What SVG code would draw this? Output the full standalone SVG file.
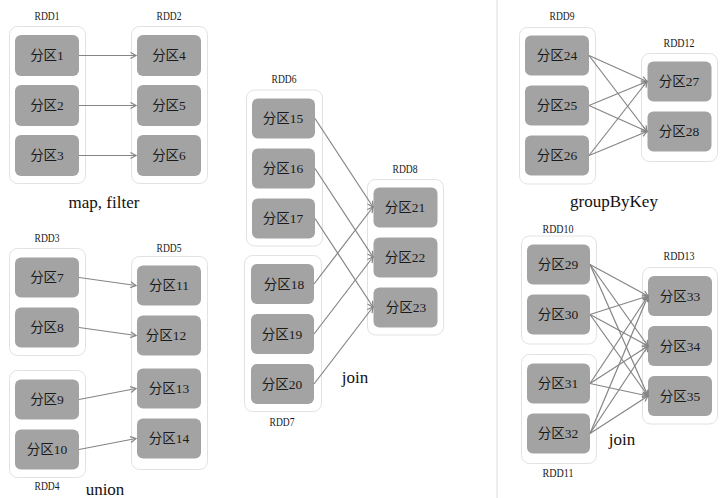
<svg xmlns="http://www.w3.org/2000/svg" width="726" height="498" viewBox="0 0 726 498">
<style>
.box{fill:#fff;stroke:#e2e2e2;stroke-width:1}
.p{fill:#a3a3a3;stroke:none}
.pt{font-family:"Liberation Serif","Noto Sans CJK SC",serif;font-size:13.5px;fill:#1a1a1a;text-anchor:middle}
.rl{font-family:"Liberation Serif",serif;font-size:12.5px;fill:#1a1a1a;text-anchor:middle}
.op{font-family:"Liberation Serif",serif;font-size:17px;fill:#111;text-anchor:middle}
.c line{stroke:#858585;stroke-width:1.2;marker-end:url(#ah)}
</style>
<defs>
<marker id="ah" markerUnits="userSpaceOnUse" markerWidth="8" markerHeight="8" refX="6" refY="3.5" orient="auto">
<path d="M0.5,0.5 L6,3.5 L0.5,6.5" fill="none" stroke="#858585" stroke-width="1.2"/>
</marker>
</defs>
<rect width="726" height="498" fill="#fff"/>
<line x1="497" y1="0" x2="497" y2="498" stroke="#dcdcdc" stroke-width="1"/>

<!-- map, filter -->
<g id="RDD1">
<rect class="box" x="9.5" y="26.5" width="76" height="157" rx="8"/>
<text class="rl" x="47" y="20" textLength="25" lengthAdjust="spacingAndGlyphs">RDD1</text>
<g id="p1"><rect class="p" x="15" y="35" width="64" height="41" rx="6"/><text class="pt" x="47" y="60">分区1</text></g>
<g id="p2"><rect class="p" x="15" y="85" width="64" height="41" rx="6"/><text class="pt" x="47" y="110">分区2</text></g>
<g id="p3"><rect class="p" x="15" y="135" width="64" height="41" rx="6"/><text class="pt" x="47" y="160">分区3</text></g>
</g>
<g id="RDD2">
<rect class="box" x="131.5" y="26.5" width="76" height="157" rx="8"/>
<text class="rl" x="169" y="20" textLength="25" lengthAdjust="spacingAndGlyphs">RDD2</text>
<g id="p4"><rect class="p" x="137" y="35" width="64" height="41" rx="6"/><text class="pt" x="169" y="60">分区4</text></g>
<g id="p5"><rect class="p" x="137" y="85" width="64" height="41" rx="6"/><text class="pt" x="169" y="110">分区5</text></g>
<g id="p6"><rect class="p" x="137" y="135" width="64" height="41" rx="6"/><text class="pt" x="169" y="160">分区6</text></g>
</g>
<text class="op" x="104" y="208">map, filter</text>

<!-- union -->
<g id="RDD3">
<rect class="box" x="9.5" y="248.5" width="76" height="107" rx="8"/>
<text class="rl" x="47" y="242" textLength="25" lengthAdjust="spacingAndGlyphs">RDD3</text>
<g id="p7"><rect class="p" x="15" y="257.5" width="64" height="40" rx="6"/><text class="pt" x="47" y="282">分区7</text></g>
<g id="p8"><rect class="p" x="15" y="307.5" width="64" height="40" rx="6"/><text class="pt" x="47" y="332">分区8</text></g>
</g>
<g id="RDD4">
<rect class="box" x="9.5" y="370.5" width="76" height="107" rx="8"/>
<text class="rl" x="47" y="490" textLength="25" lengthAdjust="spacingAndGlyphs">RDD4</text>
<g id="p9"><rect class="p" x="15" y="379.5" width="64" height="40" rx="6"/><text class="pt" x="47" y="404">分区9</text></g>
<g id="p10"><rect class="p" x="15" y="429.5" width="64" height="40" rx="6"/><text class="pt" x="47" y="454">分区10</text></g>
</g>
<g id="RDD5">
<rect class="box" x="131.5" y="256.5" width="76" height="213" rx="8"/>
<text class="rl" x="169" y="252" textLength="25" lengthAdjust="spacingAndGlyphs">RDD5</text>
<g id="p11"><rect class="p" x="137" y="265.5" width="64" height="40" rx="6"/><text class="pt" x="169" y="290">分区11</text></g>
<g id="p12"><rect class="p" x="137" y="315.5" width="64" height="40" rx="6"/><text class="pt" x="166" y="340">分区12</text></g>
<g id="p13"><rect class="p" x="137" y="368.5" width="64" height="40" rx="6"/><text class="pt" x="169" y="393">分区13</text></g>
<g id="p14"><rect class="p" x="137" y="418.5" width="64" height="40" rx="6"/><text class="pt" x="169" y="443">分区14</text></g>
</g>
<text class="op" x="105" y="495">union</text>

<!-- join (narrow) -->
<g id="RDD6">
<rect class="box" x="246.5" y="90" width="76" height="156" rx="8"/>
<text class="rl" x="284" y="83" textLength="25" lengthAdjust="spacingAndGlyphs">RDD6</text>
<g id="p15"><rect class="p" x="252" y="98.5" width="63" height="40" rx="6"/><text class="pt" x="283" y="123">分区15</text></g>
<g id="p16"><rect class="p" x="252" y="148.5" width="63" height="40" rx="6"/><text class="pt" x="283" y="173">分区16</text></g>
<g id="p17"><rect class="p" x="252" y="198.5" width="63" height="40" rx="6"/><text class="pt" x="283" y="223">分区17</text></g>
</g>
<g id="RDD7">
<rect class="box" x="244.5" y="255.5" width="77" height="156" rx="8"/>
<text class="rl" x="282" y="426" textLength="25" lengthAdjust="spacingAndGlyphs">RDD7</text>
<g id="p18"><rect class="p" x="251" y="264" width="63" height="40" rx="6"/><text class="pt" x="284" y="288.5">分区18</text></g>
<g id="p19"><rect class="p" x="251" y="314" width="63" height="40" rx="6"/><text class="pt" x="282" y="338.5">分区19</text></g>
<g id="p20"><rect class="p" x="251" y="364" width="63" height="40" rx="6"/><text class="pt" x="282" y="388.5">分区20</text></g>
</g>
<g id="RDD8">
<rect class="box" x="367.5" y="179.5" width="76" height="155.5" rx="8"/>
<text class="rl" x="405" y="173" textLength="25" lengthAdjust="spacingAndGlyphs">RDD8</text>
<g id="p21"><rect class="p" x="373.5" y="187.5" width="64" height="40" rx="6"/><text class="pt" x="405" y="212">分区21</text></g>
<g id="p22"><rect class="p" x="373.5" y="237.5" width="64" height="40" rx="6"/><text class="pt" x="405" y="262">分区22</text></g>
<g id="p23"><rect class="p" x="373.5" y="287.5" width="64" height="40" rx="6"/><text class="pt" x="406" y="312">分区23</text></g>
</g>
<text class="op" x="355" y="383">join</text>

<!-- groupByKey -->
<g id="RDD9">
<rect class="box" x="519.5" y="27.5" width="76" height="156.5" rx="8"/>
<text class="rl" x="562" y="20" textLength="25" lengthAdjust="spacingAndGlyphs">RDD9</text>
<g id="p24"><rect class="p" x="525" y="35.5" width="64" height="40" rx="6"/><text class="pt" x="557" y="60">分区24</text></g>
<g id="p25"><rect class="p" x="525" y="85.5" width="64" height="40" rx="6"/><text class="pt" x="557" y="110">分区25</text></g>
<g id="p26"><rect class="p" x="525" y="135.5" width="64" height="40" rx="6"/><text class="pt" x="557" y="160">分区26</text></g>
</g>
<g id="RDD12">
<rect class="box" x="641.5" y="53.5" width="76" height="108" rx="8"/>
<text class="rl" x="679" y="47" textLength="31" lengthAdjust="spacingAndGlyphs">RDD12</text>
<g id="p27"><rect class="p" x="647.5" y="61.5" width="64" height="40" rx="6"/><text class="pt" x="679" y="86">分区27</text></g>
<g id="p28"><rect class="p" x="647.5" y="111.5" width="64" height="40" rx="6"/><text class="pt" x="679" y="136">分区28</text></g>
</g>
<text class="op" x="614" y="207">groupByKey</text>

<!-- join (wide) -->
<g id="RDD10">
<rect class="box" x="521.5" y="236" width="75" height="108" rx="8"/>
<text class="rl" x="558" y="233" textLength="31" lengthAdjust="spacingAndGlyphs">RDD10</text>
<g id="p29"><rect class="p" x="527" y="244.5" width="63" height="40" rx="6"/><text class="pt" x="558" y="269">分区29</text></g>
<g id="p30"><rect class="p" x="527" y="294.5" width="63" height="40" rx="6"/><text class="pt" x="558" y="319">分区30</text></g>
</g>
<g id="RDD11">
<rect class="box" x="521.5" y="354.5" width="75" height="109" rx="8"/>
<text class="rl" x="558" y="477" textLength="31" lengthAdjust="spacingAndGlyphs">RDD11</text>
<g id="p31"><rect class="p" x="527" y="363.5" width="63" height="40" rx="6"/><text class="pt" x="558" y="388">分区31</text></g>
<g id="p32"><rect class="p" x="527" y="413.5" width="63" height="40" rx="6"/><text class="pt" x="558" y="438">分区32</text></g>
</g>
<g id="RDD13">
<rect class="box" x="642.5" y="267.5" width="75" height="156.5" rx="8"/>
<text class="rl" x="679" y="260" textLength="31" lengthAdjust="spacingAndGlyphs">RDD13</text>
<g id="p33"><rect class="p" x="648" y="276" width="64" height="40" rx="6"/><text class="pt" x="680" y="300.5">分区33</text></g>
<g id="p34"><rect class="p" x="648" y="326" width="64" height="40" rx="6"/><text class="pt" x="680" y="350.5">分区34</text></g>
<g id="p35"><rect class="p" x="648" y="376" width="64" height="40" rx="6"/><text class="pt" x="680" y="400.5">分区35</text></g>
</g>
<text class="op" x="622" y="445">join</text>

<g id="connectors" class="c">
<line x1="79" y1="55.5" x2="136" y2="55.5"/>
<line x1="79" y1="105.5" x2="136" y2="105.5"/>
<line x1="79" y1="155.5" x2="136" y2="155.5"/>

<line x1="79" y1="277.5" x2="136" y2="285.5"/>
<line x1="79" y1="327.5" x2="136" y2="335.5"/>
<line x1="79" y1="399.5" x2="136" y2="388.5"/>
<line x1="79" y1="449.5" x2="136" y2="438.5"/>

<line x1="315" y1="118.5" x2="373" y2="207"/>
<line x1="315" y1="168.5" x2="373" y2="257"/>
<line x1="315" y1="218.5" x2="373" y2="307"/>
<line x1="314" y1="284" x2="373" y2="207"/>
<line x1="314" y1="334" x2="373" y2="257"/>
<line x1="314" y1="384" x2="373" y2="307"/>

<line x1="589" y1="55.5" x2="647" y2="81.5"/>
<line x1="589" y1="55.5" x2="647" y2="131.5"/>
<line x1="589" y1="105.5" x2="647" y2="81.5"/>
<line x1="589" y1="105.5" x2="647" y2="131.5"/>
<line x1="589" y1="155.5" x2="647" y2="81.5"/>
<line x1="589" y1="155.5" x2="647" y2="131.5"/>

<line x1="590" y1="264.5" x2="648" y2="296"/>
<line x1="590" y1="264.5" x2="648" y2="346"/>
<line x1="590" y1="264.5" x2="648" y2="396"/>
<line x1="590" y1="314.5" x2="648" y2="296"/>
<line x1="590" y1="314.5" x2="648" y2="346"/>
<line x1="590" y1="314.5" x2="648" y2="396"/>
<line x1="590" y1="383.5" x2="648" y2="296"/>
<line x1="590" y1="383.5" x2="648" y2="346"/>
<line x1="590" y1="383.5" x2="648" y2="396"/>
<line x1="590" y1="433.5" x2="648" y2="296"/>
<line x1="590" y1="433.5" x2="648" y2="346"/>
<line x1="590" y1="433.5" x2="648" y2="396"/>
</g>
</svg>
